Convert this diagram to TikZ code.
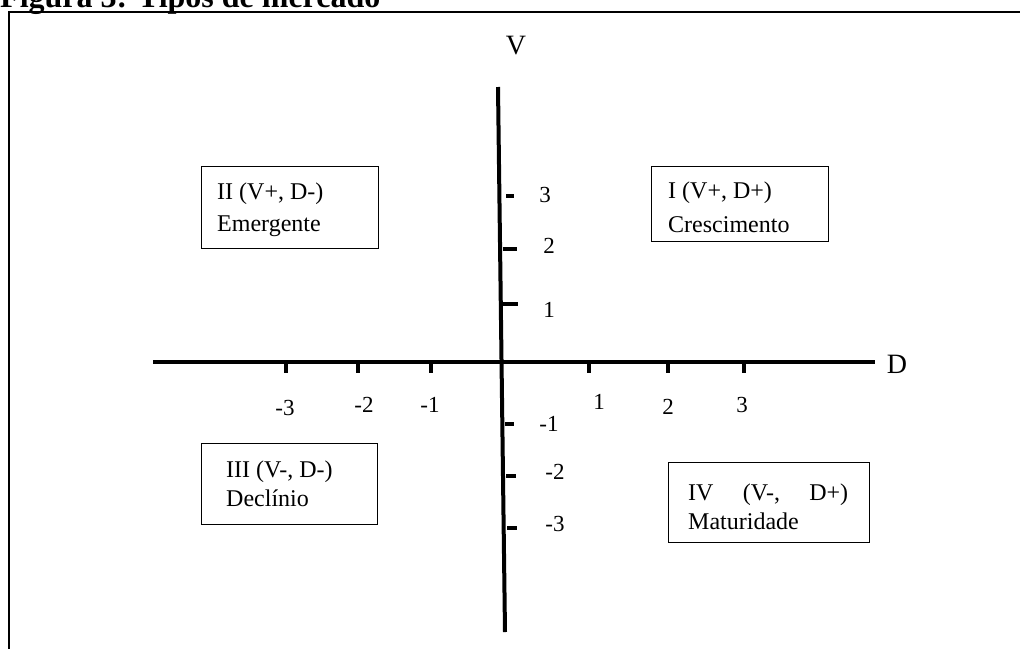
\documentclass[tikz,border=0pt]{standalone}
\usepackage{fontspec}
\setmainfont{Liberation Serif}
\begin{document}
\begin{tikzpicture}[x=1pt,y=-1pt,
  axisline/.style={line width=4pt},
  tickline/.style={line width=4pt},
  frameline/.style={line width=2pt},
  qbox/.style={draw, line width=1.2pt, inner sep=0pt, anchor=north west},
  qtext/.style={anchor=base west, inner sep=0pt},
  ticklab/.style={inner sep=0pt, font=\fontsize{23}{27}\selectfont},
  axislab/.style={inner sep=0pt, font=\fontsize{28}{32}\selectfont}]
\useasboundingbox (0,0) rectangle (1020,649);
\begin{scope}
\clip (0,0) rectangle (1020,649);
\node[anchor=base west, inner sep=0pt, font=\fontsize{32}{38}\selectfont\bfseries] (title) at (0,7) {Figura 3: Tipos de mercado};
\end{scope}
% frame
\coordinate (fr) at (1020,12);
\coordinate (fc) at (9,12);
\coordinate (fb) at (9,649);
\draw[frameline] (fr) -- (fc) -- (fb);
% axes
\coordinate (vtop) at (498,87);
\coordinate (vbot) at (505,632);
\coordinate (dl) at (153,362);
\coordinate (dr) at (875,362);
\draw[axisline] (vtop) -- (vbot);
\draw[axisline] (dl) -- (dr);
% ticks on D axis
\foreach \x in {286,358,431,589,668,744}
  \draw[tickline] (\x,362) -- (\x,373);
% ticks on V axis
\draw[tickline] (506,196) -- (514,196);
\draw[tickline] (503,249) -- (517,249);
\draw[tickline] (503,304) -- (518,304);
\draw[tickline] (505,424) -- (514,424);
\draw[tickline] (506,476) -- (516,476);
\draw[tickline] (507,528) -- (517,528);
% tick labels
\node[ticklab] (dm3) at (285,408) {-3};
\node[ticklab] (dm2) at (364,405) {-2};
\node[ticklab] (dm1) at (430,405) {-1};
\node[ticklab] (dp1) at (599,402) {1};
\node[ticklab] (dp2) at (668,407) {2};
\node[ticklab] (dp3) at (742,405) {3};
\node[ticklab] (vp3) at (545,195) {3};
\node[ticklab] (vp2) at (549,246) {2};
\node[ticklab] (vp1) at (549,310) {1};
\node[ticklab] (vm1) at (549,424) {-1};
\node[ticklab] (vm2) at (555,472) {-2};
\node[ticklab] (vm3) at (555,524) {-3};
% axis labels
\node[axislab] (vlab) at (516,46) {V};
\node[axislab] (dlab) at (897,364) {D};
% quadrant boxes
\node[qbox, minimum width=177pt, minimum height=82pt] (q2) at (201,166) {};
\node[qtext] (q2t) at (217,199) {\parbox[t]{170pt}{\fontsize{24}{32}\selectfont II (V+, D-)\\Emergente}};
\node[qbox, minimum width=177pt, minimum height=75pt] (q1) at (651,166) {};
\node[qtext] (q1t) at (668,198) {\parbox[t]{170pt}{\fontsize{24}{34}\selectfont I (V+, D+)\\Crescimento}};
\node[qbox, minimum width=176pt, minimum height=81pt] (q3) at (201,443) {};
\node[qtext] (q3t) at (226,477) {\parbox[t]{170pt}{\fontsize{24}{29}\selectfont III (V-, D-)\\Declínio}};
\node[qbox, minimum width=201pt, minimum height=80pt] (q4) at (668,462) {};
\node[qtext] (q4t) at (688,500) {\parbox[t]{160pt}{\fontsize{24}{29}\selectfont IV\hfill(V-,\hfill D+)\\Maturidade}};
\end{tikzpicture}
\end{document}
